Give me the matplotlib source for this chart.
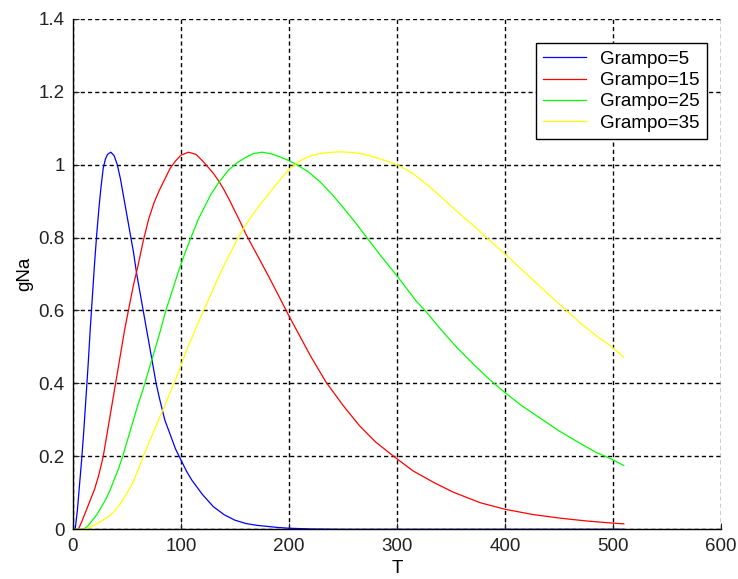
import matplotlib.pyplot as plt

plt.rcParams['font.family'] = ['Liberation Sans', 'DejaVu Sans']

# gNa conductance curves for each ramp value
t_g5 = [0, 2, 4, 6, 8, 10, 12, 14, 16, 18, 20, 22, 24, 26, 28, 30, 32, 35,
        38, 41, 44, 47, 50, 53, 56, 59, 62, 65, 68, 71, 74, 77, 80, 85, 90,
        95, 100, 105, 110, 120, 130, 140, 150, 160, 170, 180, 190, 200, 220,
        250, 510]
g_g5 = [0, 0, 0.05, 0.12, 0.19, 0.27, 0.36, 0.45, 0.55, 0.64, 0.73, 0.81,
        0.88, 0.94, 0.99, 1.015, 1.028, 1.034, 1.025, 1.0, 0.96, 0.91, 0.86,
        0.81, 0.76, 0.70, 0.65, 0.60, 0.55, 0.50, 0.45, 0.40, 0.36, 0.30,
        0.26, 0.22, 0.19, 0.16, 0.135, 0.095, 0.062, 0.04, 0.025, 0.016,
        0.011, 0.008, 0.005, 0.003, 0.001, 0, 0]

t_g15 = [0, 5, 8, 12, 16, 20, 24, 28, 32, 36, 40, 44, 48, 52, 56, 60, 65, 70,
         75, 80, 85, 90, 95, 100, 107, 114, 120, 126, 130, 135, 140, 145, 150,
         155, 160, 170, 180, 190, 200, 210, 220, 234, 250, 265, 280, 297, 315,
         335, 352, 377, 400, 425, 450, 475, 500, 510]
g_g15 = [0, 0, 0.02, 0.05, 0.08, 0.11, 0.15, 0.2, 0.27, 0.34, 0.41, 0.48,
         0.55, 0.61, 0.67, 0.72, 0.79, 0.85, 0.895, 0.93, 0.96, 0.99, 1.01,
         1.026, 1.034, 1.028, 1.01, 0.99, 0.976, 0.955, 0.93, 0.902, 0.872,
         0.842, 0.81, 0.755, 0.70, 0.643, 0.585, 0.53, 0.475, 0.405, 0.34,
         0.285, 0.24, 0.2, 0.16, 0.127, 0.102, 0.073, 0.055, 0.041, 0.031,
         0.023, 0.017, 0.015]

t_g25 = [0, 10, 14, 18, 22, 26, 30, 34, 38, 42, 46, 50, 55, 60, 65, 70, 75,
         80, 86, 92, 98, 104, 110, 116, 122, 128, 136, 144, 152, 160, 167,
         175, 183, 191, 199, 207, 218, 229, 240, 250, 261, 272, 285, 300,
         318, 326, 340, 355, 370, 386, 400, 415, 430, 450, 470, 485, 497, 510]
g_g25 = [0, 0, 0.01, 0.025, 0.04, 0.06, 0.08, 0.105, 0.135, 0.165, 0.2,
         0.24, 0.29, 0.34, 0.385, 0.435, 0.485, 0.535, 0.6, 0.655, 0.71,
         0.76, 0.805, 0.85, 0.885, 0.92, 0.955, 0.985, 1.005, 1.02, 1.03,
         1.034, 1.03, 1.022, 1.012, 1.0, 0.98, 0.952, 0.918, 0.883, 0.843,
         0.8, 0.75, 0.695, 0.625, 0.6, 0.55, 0.5, 0.455, 0.41, 0.375, 0.34,
         0.31, 0.27, 0.235, 0.21, 0.195, 0.175]

t_g35 = [0, 10, 15, 20, 25, 30, 35, 40, 45, 50, 55, 60, 65, 70, 75, 80, 85,
         90, 95, 100, 105, 110, 115, 121, 127, 133, 140, 147, 153, 160, 167,
         173, 180, 188, 195, 201, 210, 220, 230, 240, 249, 260, 270, 280, 290,
         300, 315, 330, 345, 360, 372, 383, 400, 420, 440, 457, 470, 485, 500,
         510]
g_g35 = [0, 0, 0.005, 0.012, 0.02, 0.03, 0.04, 0.055, 0.075, 0.1, 0.125,
         0.16, 0.2, 0.235, 0.27, 0.305, 0.34, 0.375, 0.41, 0.45, 0.49, 0.525,
         0.56, 0.6, 0.64, 0.68, 0.725, 0.765, 0.8, 0.835, 0.865, 0.89, 0.915,
         0.945, 0.97, 0.99, 1.01, 1.024, 1.031, 1.034, 1.035, 1.033, 1.028,
         1.02, 1.01, 1.0, 0.975, 0.94, 0.9, 0.86, 0.83, 0.8, 0.755, 0.7, 0.645,
         0.6, 0.565, 0.53, 0.498, 0.472]

labels = ['Grampo=5', 'Grampo=15', 'Grampo=25', 'Grampo=35']
colors = ['#0000ff', '#ff0000', '#00ff00', '#ffff00']

fig = plt.figure(figsize=(7.38, 5.79), dpi=100)
ax = fig.add_axes([0.0989, 0.0858, 0.878, 0.8819])

series = [(t_g5, g_g5), (t_g15, g_g15), (t_g25, g_g25), (t_g35, g_g35)]
for (t, g), lab, c in zip(series, labels, colors):
    ax.plot(t, g, color=c, lw=0.9, label=lab)

ax.set_xlim(0, 600)
ax.set_ylim(0, 1.4)
ax.set_xticks([0, 100, 200, 300, 400, 500, 600])
ax.set_yticks([0, 0.2, 0.4, 0.6, 0.8, 1, 1.2, 1.4])
ax.set_yticklabels(['0', '0.2', '0.4', '0.6', '0.8', '1', '1.2', '1.4'])

ax.grid(True, color='black', linestyle=(0, (3, 2.2)), linewidth=1.0)
ax.spines['top'].set_visible(False)
ax.spines['right'].set_visible(False)
for s in ('left', 'bottom'):
    ax.spines[s].set_linewidth(1.0)
ax.tick_params(direction='in', length=4, labelsize=13.5, colors='#222222',
               pad=6)

ax.set_xlabel('T', fontsize=13.5, labelpad=4)
ax.set_ylabel('gNa', fontsize=13.5, labelpad=4)

leg = ax.legend(loc='upper right', bbox_to_anchor=(0.978, 0.952),
                borderaxespad=0, fontsize=13.5, fancybox=False,
                edgecolor='black', framealpha=1, handlelength=2.3,
                handletextpad=0.7, labelspacing=0.22, borderpad=0.4)
leg.get_frame().set_linewidth(1.0)

fig.savefig('out.png', dpi=100)
